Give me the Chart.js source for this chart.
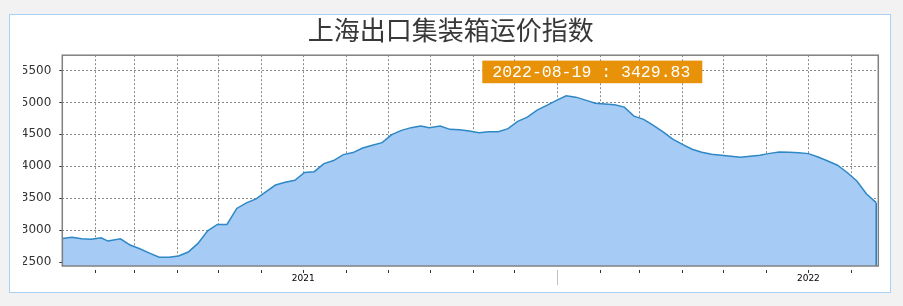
<!DOCTYPE html>
<html><head><meta charset="utf-8">
<script src="https://cdn.jsdelivr.net/npm/chart.js@4.4.1/dist/chart.umd.min.js"></script>
<style>
html,body{margin:0;padding:0;background:#f2f2f2;}
#panel{position:absolute;left:9px;top:14px;width:880px;height:277px;border:1px solid #a9d0f5;background:#fff;}
canvas{display:block;}
</style></head><body>
<div id="panel"><canvas id="c" width="880" height="277"></canvas></div>
<script>
const chartTitle = '上海出口集装箱运价指数';

const dates = [
'2021-01-08','2021-01-15','2021-01-22','2021-01-29','2021-02-05','2021-02-10','2021-02-19','2021-02-26',
'2021-03-05','2021-03-12','2021-03-19','2021-03-26','2021-04-02','2021-04-09','2021-04-16','2021-04-23',
'2021-04-30','2021-05-07','2021-05-14','2021-05-21','2021-05-28','2021-06-04','2021-06-11','2021-06-18',
'2021-06-25','2021-07-02','2021-07-09','2021-07-16','2021-07-23','2021-07-30','2021-08-06','2021-08-13',
'2021-08-20','2021-08-27','2021-09-03','2021-09-10','2021-09-17','2021-09-24','2021-09-30','2021-10-08',
'2021-10-15','2021-10-22','2021-10-29','2021-11-05','2021-11-12','2021-11-19','2021-11-26','2021-12-03',
'2021-12-10','2021-12-17','2021-12-24','2021-12-31','2022-01-07','2022-01-14','2022-01-21','2022-01-28',
'2022-02-11','2022-02-18','2022-02-25','2022-03-04','2022-03-11','2022-03-18','2022-03-25','2022-04-01',
'2022-04-08','2022-04-15','2022-04-22','2022-04-29','2022-05-06','2022-05-13','2022-05-20','2022-05-27',
'2022-06-02','2022-06-10','2022-06-17','2022-06-24','2022-07-01','2022-07-08','2022-07-15','2022-07-22',
'2022-07-29','2022-08-05','2022-08-12','2022-08-19'
];
const values = [
2870,2886,2866,2856,2880,2828,2864,2766,
2708,2640,2575,2573,2594,2656,2792,2989,
3089,3089,3339,3427,3489,3600,3706,3750,
3781,3904,3915,4042,4089,4183,4214,4286,
4328,4370,4495,4562,4605,4630,4605,4630,
4578,4573,4552,4527,4542,4542,4589,4703,
4770,4880,4953,5031,5105,5083,5036,4989,
4962,4927,4786,4734,4640,4540,4425,4344,
4266,4219,4188,4172,4158,4141,4156,4172,
4198,4223,4218,4210,4198,4145,4083,4016,
3902,3770,3565,3429.83
];

const xTickDates = [
'2021-02-01','2021-03-01','2021-04-01','2021-05-01','2021-06-01','2021-07-01','2021-08-01','2021-09-01',
'2021-10-01','2021-11-01','2021-12-01','2022-01-01','2022-02-01','2022-03-01','2022-04-01','2022-05-01',
'2022-06-01','2022-07-01','2022-08-01'
];
const yearLabelDates = ['2021-07-01','2022-07-01'];
const yearLabels = ['2021','2022'];
const yearDividerDate = '2022-01-01';
const yTicks = [2500,3000,3500,4000,4500,5000,5500];
const yAxisMin = 2437.5;
const yAxisMax = 5740;

function dayNum(s){
  const p = s.split('-').map(Number);
  return (Date.UTC(p[0], p[1]-1, p[2]) - Date.UTC(2021,0,1)) / 86400000;
}
const points = dates.map((d,i)=>({x:dayNum(d), y:values[i]}));
const firstX = points[0].x, lastX = points[points.length-1].x;
const edgePoints = [
  {x:firstX, y:values[0]}, {x:firstX, y:yAxisMin}, {x:firstX, y:null},
  {x:lastX, y:values[values.length-1]}, {x:lastX, y:yAxisMin}
];
const xTickDays = xTickDates.map(dayNum);
const yearLabelDays = yearLabelDates.map(dayNum);
const dividerDay = dayNum(yearDividerDate);

const framePlugin = {
  id:'frame',
  afterDatasetsDraw(chart){
    const a = chart.chartArea, c = chart.ctx;
    c.save();
    c.strokeStyle = '#808080';
    c.lineWidth = 1.5;
    c.strokeRect(a.left, a.top, a.right-a.left, a.bottom-a.top);
    c.restore();
  }
};
const labelPlugin = {
  id:'lastLabel',
  afterDraw(chart){
    const a = chart.chartArea, c = chart.ctx;
    const txt = dates[dates.length-1] + ' : ' + values[values.length-1].toFixed(2);
    const bx = a.left + 420, by = a.top + 5.4, bw = 220, bh = 22.6;
    c.save();
    c.fillStyle = '#e8920a';
    c.fillRect(bx, by, bw, bh);
    c.fillStyle = '#ffffff';
    c.font = '16.5px "Liberation Mono", "DejaVu Sans Mono", monospace';
    c.textBaseline = 'middle';
    c.textAlign = 'left';
    c.fillText(txt, bx + 10, by + bh/2 + 0.5);
    c.restore();
  }
};

new Chart(document.getElementById('c'), {
  type:'line',
  data:{
    datasets:[
      {
        data: points,
        borderColor:'#2f88c6',
        borderWidth:1.5,
        backgroundColor:'#a6cbf5',
        fill:'start',
        pointRadius:0,
        tension:0,
        order:2
      },
      {
        data: edgePoints,
        borderColor:'#2a7fbf',
        borderWidth:1.5,
        pointRadius:0,
        fill:false,
        spanGaps:false,
        order:1
      }
    ]
  },
  options:{
    responsive:false,
    devicePixelRatio:1,
    animation:false,
    layout:{padding:{left:13,right:11.7,top:0,bottom:0}},
    plugins:{
      legend:{display:false},
      tooltip:{enabled:false},
      title:{
        display:true,
        text:chartTitle,
        color:'#383838',
        font:{family:'"Noto Sans CJK SC", sans-serif', size:26, weight:'normal', lineHeight:1.2},
        padding:{top:0,bottom:9}
      }
    },
    scales:{
      x:{
        type:'linear',
        min:firstX,
        max:lastX+1.5,
        afterBuildTicks(s){ s.ticks = xTickDays.map(v=>({value:v})); },
        afterFit(s){ s.height = 26; },
        ticks:{
          autoSkip:false,
          maxRotation:0,
          padding:-12.5,
          color:'#000000',
          font:{family:'"DejaVu Sans", sans-serif', size:9},
          callback(v){ const i = yearLabelDays.indexOf(v); return i>=0 ? yearLabels[i] : ''; }
        },
        grid:{
          color:'#8a8a8a',
          lineWidth:1,
          tickLength:20,
          tickColor(ctx){ return ctx.tick && ctx.tick.value===dividerDay ? '#c0c0c0' : '#333333'; },
          tickBorderDash(ctx){ return ctx.tick && ctx.tick.value===dividerDay ? [0,4,15,100] : [0,4,3,100]; }
        },
        border:{display:false, dash:[2,2]}
      },
      y:{
        min:yAxisMin,
        max:yAxisMax,
        afterBuildTicks(s){ s.ticks = yTicks.map(v=>({value:v})); },
        afterFit(s){ s.width = 39.3; },
        ticks:{
          padding:5,
          color:'#333333',
          font:{family:'"DejaVu Sans", sans-serif', size:12},
          callback(v){ return String(v); }
        },
        grid:{
          color:'#8a8a8a',
          lineWidth:1,
          tickLength:6,
          tickColor:'#333333',
          tickBorderDash:[0,3,3,100]
        },
        border:{display:false, dash:[2,2]}
      }
    }
  },
  plugins:[framePlugin, labelPlugin]
});
</script>
</body></html>
